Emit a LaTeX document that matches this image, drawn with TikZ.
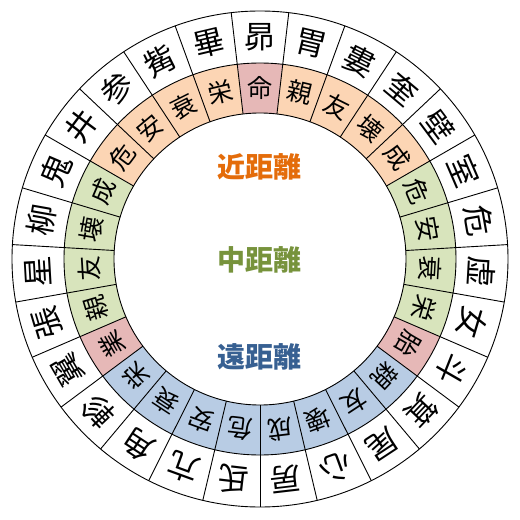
\documentclass[tikz,border=0pt]{standalone}
\usepackage{fontspec}
\newfontfamily\jp{Noto Sans CJK JP}
\definecolor{orf}{HTML}{FCD5B4}
\definecolor{pkf}{HTML}{E6B8B7}
\definecolor{grf}{HTML}{D8E4BC}
\definecolor{blf}{HTML}{B8CCE4}
\definecolor{ort}{HTML}{E46C0A}
\definecolor{grt}{HTML}{77933C}
\definecolor{blt}{HTML}{376092}
\tikzset{
  ringline/.style={black, line width=0.9pt},
  outerchar/.style={font=\jp\fontsize{31}{31}\selectfont, inner sep=0pt},
  innerchar/.style={font=\jp\fontsize{25}{25}\selectfont, inner sep=0pt},
  centerlabel/.style={font=\jp\bfseries\fontsize{28}{28}\selectfont, inner sep=0pt}
}
\begin{document}
\begin{tikzpicture}[x=1pt,y=1pt]
\useasboundingbox (-260,-261) rectangle (260,259);
\fill[white] (-260,-261) rectangle (260,259);
\def\ri{146}\def\rm{196}\def\ro{248}
\def\hw{6.6667}
% inner ring fills and characters
\foreach \c/\col [count=\i from 0] in {命/pkf,栄/orf,衰/orf,安/orf,危/orf,成/grf,壊/grf,友/grf,親/grf,業/pkf,栄/blf,衰/blf,安/blf,危/blf,成/blf,壊/blf,友/blf,親/blf,胎/pkf,栄/grf,衰/grf,安/grf,危/grf,成/orf,壊/orf,友/orf,親/orf}{
  \pgfmathsetmacro\a{90+\i*360/27}
  \pgfmathsetmacro\aa{\a-\hw}
  \pgfmathsetmacro\ab{\a+\hw}
  \fill[\col] (\aa:\ri) arc[start angle=\aa, end angle=\ab, radius=\ri] -- (\ab:\rm) arc[start angle=\ab, end angle=\aa, radius=\rm] -- cycle;
  \node[innerchar, rotate=\a-90] (in\i) at (\a:171) {\c};
}
% outer ring characters and radial lines
\foreach \c [count=\i from 0] in {昴,畢,觜,参,井,鬼,柳,星,張,翼,軫,角,亢,氐,房,心,尾,箕,斗,女,虚,危,室,壁,奎,婁,胃}{
  \pgfmathsetmacro\a{90+\i*360/27}
  \pgfmathsetmacro\aa{\a-\hw}
  \node[outerchar, rotate=\a-90] (out\i) at (\a:222) {\c};
  \draw[ringline] (\aa:\ri) -- (\aa:\ro);
}
\draw[ringline] (0,0) circle[radius=\ri];
\draw[ringline] (0,0) circle[radius=\rm];
\draw[ringline] (0,0) circle[radius=\ro];
% center labels
\node[centerlabel, text=ort] (near) at (0,92) {近距離};
\node[centerlabel, text=grt] (mid) at (0,-1) {中距離};
\node[centerlabel, text=blt] (far) at (0,-98) {遠距離};
\end{tikzpicture}
\end{document}
